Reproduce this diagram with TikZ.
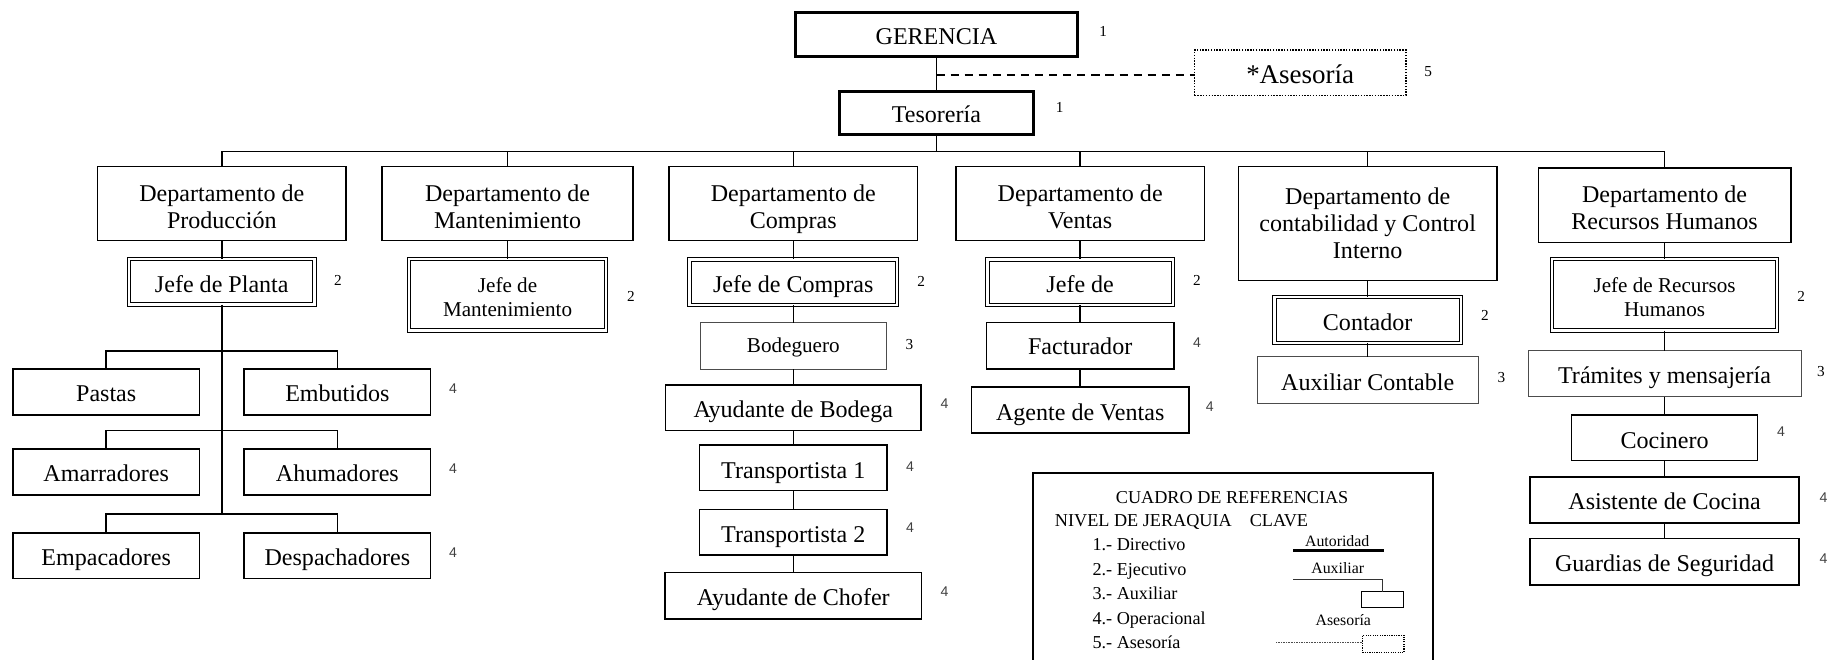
\documentclass[tikz,border=0pt]{standalone}
\usepackage{fontspec}
\setmainfont{Liberation Serif}
\newfontfamily\arialf{Liberation Sans}
\newcommand\lowtop{\rule{0pt}{19pt}}
\begin{document}
\begin{tikzpicture}[x=1pt,y=-1pt,
  every node/.style={inner sep=0pt, outer sep=0pt},
  box/.style={draw, line width=1.3pt, align=center, font=\fontsize{20.5}{23}\selectfont},
  sl/.style={text height=17pt, text depth=0pt},
  gbox/.style={box, line width=2.6pt},
  dbl/.style={box, double, double distance=2pt, line width=0.9pt},
  lbox/.style={box, line width=0.8pt, draw=black!70},
  dotbox/.style={draw, line width=1.3pt, dash pattern=on 1.2pt off 1.2pt, font=\fontsize{23}{26}\selectfont},
  conn/.style={line width=1.3pt},
  lvl/.style={font=\fontsize{13}{13}\selectfont},
  lvs/.style={font=\arialf\fontsize{12}{12}\selectfont, text=black!75},
  leg/.style={anchor=base west, font=\fontsize{15.5}{17}\selectfont},
  legs/.style={anchor=base, font=\fontsize{13.5}{15}\selectfont},
]
\useasboundingbox (0,0) rectangle (1568,562);
\fill[white] (0,0) rectangle (1568,562);

% top
\node[gbox, sl, minimum width=240, minimum height=38] (ger) at (798,29.5) {GERENCIA};
\node[gbox, sl, text height=15pt, minimum width=165, minimum height=37] (tes) at (798,96.5) {Tesorería};
\node[dotbox, text height=19pt, text depth=0pt, minimum width=180, minimum height=39] (ase) at (1108,62) {*Asesoría};
\node[lvl] (n1) at (940,27) {1};
\node[lvl] (n2) at (903,92) {1};
\node[lvl] (n3) at (1217,61) {5};
\draw[conn] (ger.south) -- (tes.north);
\coordinate (dj) at (798,64);
\draw[line width=1.5pt, dash pattern=on 7pt off 5pt] (dj) -- (dj -| ase.west);

% departments
\node[box, minimum width=212, minimum height=63] (prod) at (189,173.5) {\lowtop Departamento de\\Producción};
\node[box, minimum width=214, minimum height=63] (mant) at (432.5,173.5) {\lowtop Departamento de\\Mantenimiento};
\node[box, minimum width=212, minimum height=63] (comp) at (676,173.5) {\rule{0pt}{23.5pt}Departamento de\\Compras};
\node[box, minimum width=212, minimum height=63] (vent) at (920.5,173.5) {\lowtop Departamento de\\Ventas};
\node[box, minimum width=220, minimum height=97] (cont) at (1165.5,190.5) {Departamento de\\contabilidad y Control\\Interno};
\node[box, minimum width=215, minimum height=63.5] (rh) at (1418.5,175) {\lowtop Departamento de\\Recursos Humanos};

\coordinate (bus) at (798,129);
\draw[conn] (tes.south) -- (bus);
\draw[conn] (prod.north) -- (prod.north |- bus) -- (rh.north |- bus) -- (rh.north);
\foreach \d in {mant,comp,vent,cont} \draw[conn] (\d.north) -- (\d.north |- bus);

% Produccion
\node[dbl, sl, text height=18pt, minimum width=158, minimum height=39] (jp) at (189,240) {Jefe de Planta};
\node[lvl] (n4) at (288,238.6) {2};
\draw[conn] (prod.south) -- (jp.north);
\node[box, sl, minimum width=159, minimum height=39] (pas) at (90.5,334) {Pastas};
\node[box, sl, minimum width=159, minimum height=39] (emb) at (287.5,334) {Embutidos};
\node[box, sl, minimum width=159, minimum height=39] (ama) at (90.5,402.2) {Amarradores};
\node[box, sl, minimum width=159, minimum height=39] (ahu) at (287.5,402.2) {Ahumadores};
\node[box, sl, minimum width=159, minimum height=39] (emp) at (90.5,473.5) {Empacadores};
\node[box, sl, minimum width=159, minimum height=39] (des) at (287.5,473.5) {Despachadores};
\node[lvs] (n5) at (386,331.5) {4};
\node[lvs] (n6) at (386,399) {4};
\node[lvs] (n7) at (386,471) {4};
\coordinate (p1) at (189,299);
\coordinate (p2) at (189,367);
\coordinate (p3) at (189,438);
\draw[conn] (jp.south) -- (p3);
\draw[conn] (pas.north) -- (pas.north |- p1) -- (emb.north |- p1) -- (emb.north);
\draw[conn] (ama.north) -- (ama.north |- p2) -- (ahu.north |- p2) -- (ahu.north);
\draw[conn] (emp.north) -- (emp.north |- p3) -- (des.north |- p3) -- (des.north);

% Mantenimiento
\node[dbl, font=\fontsize{18}{20}\selectfont, minimum width=168, minimum height=61] (jm) at (432.5,251) {\rule{0pt}{17pt}Jefe de\\Mantenimiento};
\node[lvl] (n8) at (537.7,253) {2};
\draw[conn] (mant.south) -- (jm.north);

% Compras
\node[dbl, sl, minimum width=177, minimum height=39] (jc) at (676,240.5) {Jefe de Compras};
\node[lbox, font=\fontsize{18}{20}\selectfont, text height=12pt, text depth=0pt, minimum width=159, minimum height=39.5] (bod) at (676,294.75) {Bodeguero};
\node[box, sl, minimum width=218, minimum height=39] (ayb) at (676,347.5) {Ayudante de Bodega};
\node[box, sl, text height=18pt, minimum width=159.5, minimum height=39] (t1) at (676,398.5) {Transportista 1};
\node[box, sl, text height=18pt, minimum width=159.5, minimum height=39] (t2) at (676,453.5) {Transportista 2};
\node[box, sl, minimum width=218.5, minimum height=39.5] (ach) at (676,507.75) {Ayudante de Chofer};
\draw[conn] (comp.south) -- (jc.north);
\draw[conn] (jc.south) -- (bod.north);
\draw[conn] (bod.south) -- (ayb.north);
\draw[conn] (ayb.south) -- (t1.north);
\draw[conn] (t1.south) -- (t2.north);
\draw[conn] (t2.south) -- (ach.north);
\node[lvl] (n9) at (785,239.5) {2};
\node[lvl] (n10) at (775,294) {3};
\node[lvs] (n11) at (805,343.6) {4};
\node[lvs] (n12) at (775.5,398) {4};
\node[lvs] (n13) at (775.5,450) {4};
\node[lvs] (n14) at (805,504.5) {4};

% Ventas
\node[dbl, sl, minimum width=158, minimum height=39] (jv) at (920.5,240.5) {Jefe de};
\node[box, sl, text height=15pt, minimum width=160, minimum height=39.5] (fac) at (920.5,294.75) {Facturador};
\node[box, sl, minimum width=185, minimum height=39] (age) at (920.5,349.5) {Agente de Ventas};
\draw[conn] (vent.south) -- (jv.north);
\draw[conn] (jv.south) -- (fac.north);
\draw[conn] (fac.south) -- (age.north);
\node[lvl] (n15) at (1020,238.6) {2};
\node[lvs] (n16) at (1020,292) {4};
\node[lvs] (n17) at (1031,346.6) {4};

% Contabilidad
\node[dbl, sl, minimum width=159, minimum height=39] (cnt) at (1165.5,272.75) {Contador};
\node[lbox, sl, minimum width=188, minimum height=39.7] (aux) at (1165.5,324) {Auxiliar Contable};
\draw[conn] (cont.south) -- (cnt.north);
\draw[conn] (cnt.south) -- (aux.north);
\node[lvl] (n18) at (1265.5,268.4) {2};
\node[lvl] (n19) at (1279.5,322) {3};

% Recursos Humanos
\node[dbl, font=\fontsize{18}{20}\selectfont, minimum width=192, minimum height=61] (jrh) at (1418.5,251.25) {\rule{0pt}{17pt}Jefe de Recursos\\Humanos};
\node[lbox, sl, minimum width=232.6, minimum height=39] (tra) at (1418.5,318.5) {Trámites y mensajería};
\node[box, sl, text height=18pt, minimum width=158.5, minimum height=39] (coc) at (1418.5,373) {Cocinero};
\node[box, sl, minimum width=229, minimum height=39] (asi) at (1418.5,426) {Asistente de Cocina};
\node[box, sl, minimum width=229, minimum height=39.5] (gua) at (1418.5,478.75) {Guardias de Seguridad};
\draw[conn] (rh.south) -- (jrh.north);
\draw[conn] (jrh.south) -- (tra.north);
\draw[conn] (tra.south) -- (coc.north);
\draw[conn] (coc.south) -- (asi.north);
\draw[conn] (asi.south) -- (gua.north);
\node[lvl] (n20) at (1535,252.8) {2};
\node[lvl] (n21) at (1551.8,316.7) {3};
\node[lvs] (n22) at (1517.7,368) {4};
\node[lvs] (n23) at (1554,423.7) {4};
\node[lvs] (n24) at (1554,476) {4};

% legend
\node[draw, line width=1.4pt, minimum width=340.5, minimum height=200, anchor=north west] (legend) at (880.5,402.8) {};
\node[anchor=base, font=\fontsize{15.5}{17}\selectfont] (lt) at (1050,428.8) {CUADRO DE REFERENCIAS};
\node[leg] (lh1) at (899,448.8) {NIVEL DE JERAQUIA};
\node[leg] (lh2) at (1065,448.8) {CLAVE};
\node[leg] (l1) at (931,468.7) {1.- Directivo};
\node[leg] (l2) at (931,490) {2.- Ejecutivo};
\node[leg] (l3) at (931,510.5) {3.- Auxiliar};
\node[leg] (l4) at (931,532.6) {4.- Operacional};
\node[leg] (l5) at (931,553) {5.- Asesoría};
\node[legs] (k1) at (1139.5,465.8) {Autoridad};
\node[legs] (k2) at (1140,488.4) {Auxiliar};
\node[legs] (k3) at (1144.7,533.4) {Asesoría};
\coordinate (a1) at (1102,469.3);
\coordinate (a2) at (1179.5,469.3);
\draw[line width=2.2pt] (a1) -- (a2);
\node[draw, line width=0.8pt, minimum width=36, minimum height=13.3, anchor=north west] (kbox) at (1160.4,504.2) {};
\coordinate (a3) at (1102,493.7);
\draw[line width=0.8pt, black!80] (a3) -| (kbox.north);
\node[draw, line width=1.2pt, dash pattern=on 1pt off 1pt, minimum width=35.6, minimum height=14.5, anchor=north west] (kdot) at (1161,541.4) {};
\coordinate (a4) at (1087.4,547.6);
\draw[line width=0.6pt, black!70, dash pattern=on 0.8pt off 0.6pt] (a4) -- (a4 -| kdot.west);
\end{tikzpicture}
\end{document}
